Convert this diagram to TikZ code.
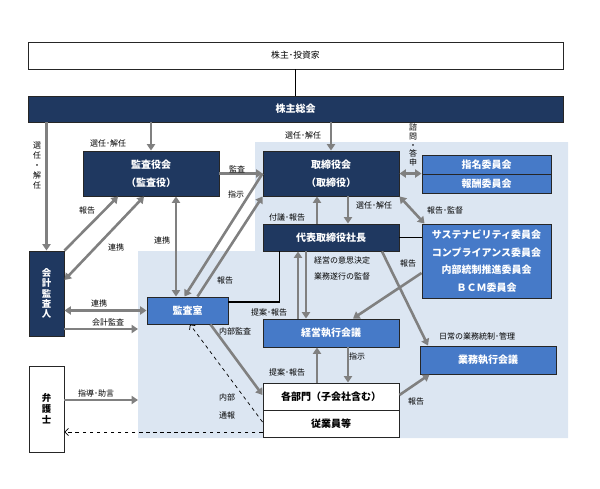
\documentclass[tikz,border=0pt]{standalone}
\usepackage{fontspec}
\setmainfont{Noto Sans CJK JP}
\usetikzlibrary{arrows.meta, calc}
\definecolor{navy}{RGB}{31,56,96}
\definecolor{midblue}{RGB}{70,122,200}
\definecolor{paleblue}{RGB}{220,230,242}
\definecolor{flowgray}{RGB}{128,128,128}
\def\pxu{0.85pt}

\begin{document}
\begin{tikzpicture}[x=0.85pt, y=-0.85pt,
  box/.style={draw=black!85, line width=0.8pt, minimum width=136*\pxu, minimum height=27*\pxu,
    inner sep=0pt, align=center, font=\fontsize{8.5}{15}\selectfont\bfseries},
  darkbox/.style={box, fill=navy, text=white},
  bluebox/.style={box, fill=midblue, text=white},
  whitebox/.style={box, fill=white, text=black},
  tallbox/.style={minimum width=35*\pxu, font=\fontsize{8}{8.8}\selectfont\bfseries},
  lbl/.style={inner sep=0pt, align=center, font=\fontsize{6.8}{8}\selectfont},
  flow/.style={draw=flowgray, line width=2.2pt, -{Triangle[length=5.5pt,width=7pt]}},
  both/.style={flow, {Triangle[length=5.5pt,width=7pt]}-{Triangle[length=5.5pt,width=7pt]}},
  link/.style={draw=black, line width=1.2pt},
  whistle/.style={draw=black, line width=0.6pt, dashed, -{Straight Barb[length=3pt,width=6pt]}}
]
\useasboundingbox (0,0) rectangle (600,489);

% pale backdrop of the company side
\fill[paleblue] (255,142) -- (568,142) -- (568,438) -- (138,438) -- (138,251) -- (255,251) -- cycle;

% boxes
\node[whitebox, minimum width=535*\pxu, font=\fontsize{7.5}{9}\selectfont] (inv) at (295.5,55.5) {株主･投資家};
\node[darkbox, minimum width=535*\pxu, minimum height=26*\pxu] (agm) at (295.5,109) {株主総会};
\node[darkbox, minimum height=45*\pxu] (kansa) at (151,173.5) {監査役会\\（監査役）};
\node[darkbox, minimum height=45*\pxu] (board) at (331,173.5) {取締役会\\（取締役）};
\node[bluebox, minimum width=129*\pxu, minimum height=19*\pxu] (nom) at (486.5,164.5) {指名委員会};
\node[bluebox, minimum width=129*\pxu, minimum height=19*\pxu] (rem) at (486.5,183.5) {報酬委員会};
\node[darkbox] (ceo) at (331,237.5) {代表取締役社長};
\node[bluebox, minimum width=129*\pxu, minimum height=74*\pxu] (comm) at (486.5,261)
  {サステナビリティ委員会\\コンプライアンス委員会\\内部統制推進委員会\\ＢＣＭ委員会};
\node[darkbox, tallbox, minimum height=85*\pxu] (auditor) at (46.5,293.5) {会\\計\\監\\査\\人};
\node[bluebox, minimum width=81*\pxu] (office) at (187.5,310.5) {監査室};
\node[bluebox, minimum height=28*\pxu] (exec) at (331,333) {経営執行会議};
\node[bluebox, minimum height=28*\pxu] (ops) at (488,360) {業務執行会議};
\node[whitebox] (dept) at (331,396.5) {各部門（子会社含む）};
\node[whitebox] (staff) at (331,423.5) {従業員等};
\node[whitebox, tallbox, minimum height=86*\pxu, font=\fontsize{8}{9.5}\selectfont\bfseries] (lawyer) at (46.5,409) {弁\\護\\士};

\coordinate (aud-end) at (138,329);
\coordinate (law-end) at (138,400);

% connectors
\draw[link] (inv) -- (agm);
\draw[flow] (agm.south -| auditor.north) -- (auditor.north);
\draw[flow] (agm.south -| kansa.north) -- (kansa.north);
\draw[flow] (agm.south -| board.north) -- (board.north);
\draw[flow] (kansa.east) -- (kansa.east -| board.west);
\draw[flow] (board.west) -- ($(office.north)+(-3,0)$);
\draw[flow] ($(office.north)+(10,0)$) -- (board.south west);
\draw[both] ($(kansa.south)+(25,0)$) -- ($(office.north)+(-11.5,0)$);
\draw[flow] (auditor.north east) -- ($(kansa.south)+(-33,0)$);
\draw[both] ($(kansa.south)+(-7,0)$) -- ($(auditor.east)+(0,-13.5)$);
\draw[both] (auditor.east |- office.west) -- (office.west);
\draw[flow] (auditor.east |- aud-end) -- (aud-end);
\draw[flow] (lawyer.east |- law-end) -- (law-end);
\draw[whistle] ($(staff.west)+(0,8.5)$) -- ($(staff.west -| lawyer.east)+(0,8.5)$);
\draw[whistle] ($(staff.west)+(0,-1.5)$) -- ($(office.south)+(2.5,0)$);
\draw[flow] ($(office.south)+(23,0)$) -- ($(dept.west)+(0,-1.5)$);
\draw[link] ($(office.east)+(0,-8.5)$) -| ($(ceo.south west)+(17,0)$);

\draw[both] (board.east |- rem.north west) -- (rem.north west);
\draw[flow] ($(board.south)+(17,0)$) -- ($(ceo.north)+(17,0)$);
\draw[flow] ($(ceo.north)+(-14,0)$) -- ($(board.south)+(-14,0)$);
\draw[both] (board.south east) -- ($(comm.north west)+(3,0)$);
\draw[link] (ceo.east) -- (ceo.east -| comm.west);
\draw[flow] ($(exec.north)+(-33,0)$) -- ($(ceo.south)+(-33,0)$);
\draw[flow] ($(ceo.south)+(-25,0)$) -- ($(exec.north)+(-25,0)$);
\draw[flow] ($(comm.west)+(0,12)$) -- ($(exec.north)+(22,0)$);
\draw[flow] ($(ceo.south)+(51,0)$) -- ($(ops.north)+(-60,0)$);
\draw[flow] ($(exec.south)+(17,0)$) -- ($(dept.north)+(17,0)$);
\draw[flow] ($(dept.north)+(-14,0)$) -- ($(exec.south)+(-14,0)$);
\draw[flow] ($(dept.east)+(0,-1.5)$) -- ($(ops.south west)+(10,0)$);

% labels
\node[lbl, font=\fontsize{6.8}{8.5}\selectfont] (l-elect-aud) at (37,166) {選\\任\\・\\解\\任};
\node[lbl] (l-elect-kansa) at (108,143) {選任･解任};
\node[lbl] (l-elect-board) at (303,135) {選任･解任};
\node[lbl, font=\fontsize{6.8}{7.6}\selectfont] (l-consult) at (413,145) {諮\\問\\・\\答\\申};
\node[lbl] (l-audit) at (237,169) {監査};
\node[lbl] (l-order) at (236,194) {指示};
\node[lbl] (l-rep-aud) at (87,210) {報告};
\node[lbl] (l-coop-aud) at (116,247) {連携};
\node[lbl] (l-coop-kansa) at (162,240) {連携};
\node[lbl] (l-rep-office) at (225,280) {報告};
\node[lbl] (l-coop-office) at (99,303) {連携};
\node[lbl] (l-acc-audit) at (108,322) {会計監査};
\node[lbl] (l-advice) at (96,393) {指導･助言};
\node[lbl] (l-int-audit) at (235,331) {内部監査};
\node[lbl, font=\fontsize{6.8}{15}\selectfont] (l-whistle) at (227,406.5) {内部\\通報};
\node[lbl] (l-prop-ceo) at (269,312) {提案･報告};
\node[lbl] (l-submit) at (287,217) {付議･報告};
\node[lbl] (l-elect-ceo) at (374,205) {選任･解任};
\node[lbl] (l-supervise) at (445,210) {報告･監督};
\node[lbl, font=\fontsize{6.8}{13.5}\selectfont] (l-decide) at (342,268.5) {経営の意思決定\\業務遂行の監督};
\node[lbl] (l-rep-comm) at (408,263) {報告};
\node[lbl] (l-daily) at (477,336) {日常の業務統制･管理};
\node[lbl] (l-order-dept) at (357,356) {指示};
\node[lbl] (l-prop-dept) at (287,372) {提案･報告};
\node[lbl] (l-rep-dept) at (416,401) {報告};
\end{tikzpicture}
\end{document}
